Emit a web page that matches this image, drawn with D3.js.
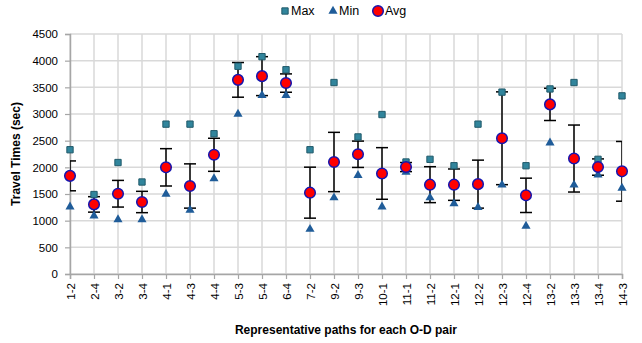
<!DOCTYPE html>
<html>
<head>
<meta charset="utf-8">
<script src="https://cdn.jsdelivr.net/npm/d3@7"></script>
<style>
  body { margin: 0; background: #fff; }
  text { font-family: "Liberation Sans", Arial, sans-serif; fill: #000; }
</style>
</head>
<body>
<svg id="chart" width="642" height="343"></svg>
<script>
const pairs = ['1-2', '2-4', '3-2', '3-4', '4-1', '4-3', '4-4', '5-3', '5-4', '6-4', '7-2', '9-2',
    '9-3', '10-1', '11-1', '11-2', '12-1', '12-2', '12-3', '12-4', '13-2', '13-3', '13-4', '14-3'];
const maxTimes = [2330, 1490, 2090, 1725, 2810, 2810, 2630, 3895, 4075, 3830, 2330, 3590,
    2570, 2990, 2100, 2150, 2030, 2810, 3410, 2030, 3470, 3590, 2150, 3340];
const minTimes = [1260, 1090, 1020, 1020, 1500, 1200, 1790, 3000, 3350, 3350, 840, 1430,
    1850, 1260, 1910, 1430, 1320, 1250, 1670, 900, 2460, 1670, 1860, 1610];
const avgTimes = [1840, 1305, 1505, 1350, 2000, 1650, 2235, 3640, 3710, 3580, 1525, 2100,
    2245, 1885, 2005, 1675, 1675, 1685, 2545, 1475, 3180, 2165, 2005, 1925];
const stdDev = [280, 145, 250, 200, 350, 415, 310, 325, 365, 172, 478, 556,
    247, 484, 85, 337, 294, 450, 870, 322, 302, 628, 153, 560];
const yTicks = [0, 500, 1000, 1500, 2000, 2500, 3000, 3500, 4000, 4500];

const svg = d3.select('#chart');
const margin = {top: 34, right: 20, bottom: 69, left: 70};
const width = 642 - margin.left - margin.right;
const height = 343 - margin.top - margin.bottom;
const g = svg.append('g').attr('transform', `translate(${margin.left},${margin.top})`);

const x = d3.scalePoint().domain(pairs).range([0, width]);
const y = d3.scaleLinear().domain([0, 4500]).range([height, 0]);

svg.append('defs').append('clipPath').attr('id', 'plotClip')
    .append('rect').attr('x', 0).attr('y', -5).attr('width', width).attr('height', height + 5);

// gridlines
g.append('g').selectAll('line').data(yTicks).join('line')
    .attr('x1', 0).attr('x2', width)
    .attr('y1', d => y(d)).attr('y2', d => y(d))
    .attr('stroke', '#d9d9d9').attr('stroke-width', 1.5);
g.append('g').selectAll('line').data(pairs).join('line')
    .attr('x1', d => x(d)).attr('x2', d => x(d))
    .attr('y1', 0).attr('y2', height)
    .attr('stroke', '#d9d9d9').attr('stroke-width', 1.5);

// axes
const yAxis = g.append('g')
    .call(d3.axisLeft(y).tickValues(yTicks).tickFormat(d3.format('d')).tickSize(5).tickPadding(7));
const xAxis = g.append('g').attr('transform', `translate(0,${height})`)
    .call(d3.axisBottom(x).tickSize(5).tickPadding(4));
[yAxis, xAxis].forEach(a => {
    a.select('.domain').attr('stroke', '#a6a6a6').attr('stroke-width', 1.5);
    a.selectAll('.tick line').attr('stroke', '#a6a6a6').attr('stroke-width', 1.2);
    a.selectAll('text').attr('font-size', 11.5).attr('font-family', '"Liberation Sans", Arial, sans-serif');
});
xAxis.selectAll('text')
    .attr('transform', 'rotate(-90)')
    .attr('text-anchor', 'end')
    .attr('dy', '0.35em')
    .attr('x', -9).attr('y', 0);

// error bars (clipped to the plot area)
const rows = pairs.map((p, i) => ({p, max: maxTimes[i], min: minTimes[i], avg: avgTimes[i], sd: stdDev[i]}));
const err = g.append('g').attr('clip-path', 'url(#plotClip)')
    .attr('stroke', '#000').attr('stroke-width', 1.5);
err.selectAll('.stem').data(rows).join('line')
    .attr('x1', d => x(d.p)).attr('x2', d => x(d.p))
    .attr('y1', d => y(d.avg + d.sd)).attr('y2', d => y(d.avg - d.sd));
err.selectAll('.capTop').data(rows).join('line')
    .attr('x1', d => x(d.p) - 6).attr('x2', d => x(d.p) + 6)
    .attr('y1', d => y(d.avg + d.sd)).attr('y2', d => y(d.avg + d.sd));
err.selectAll('.capBot').data(rows).join('line')
    .attr('x1', d => x(d.p) - 6).attr('x2', d => x(d.p) + 6)
    .attr('y1', d => y(d.avg - d.sd)).attr('y2', d => y(d.avg - d.sd));

// markers
const squareSym = d3.symbol().type(d3.symbolSquare).size(40);
const triSym = d3.symbol().type(d3.symbolTriangle).size(36);
g.append('g').selectAll('path').data(rows).join('path')
    .attr('d', squareSym)
    .attr('transform', d => `translate(${x(d.p)},${y(d.max)})`)
    .attr('fill', '#31859c').attr('stroke', '#215a6a').attr('stroke-width', 1);
g.append('g').selectAll('path').data(rows).join('path')
    .attr('d', triSym)
    .attr('transform', d => `translate(${x(d.p)},${y(d.min)})`)
    .attr('fill', '#1f5c99');
g.append('g').selectAll('circle').data(rows).join('circle')
    .attr('cx', d => x(d.p)).attr('cy', d => y(d.avg)).attr('r', 5.3)
    .attr('fill', '#ff0000').attr('stroke', '#1515b0').attr('stroke-width', 1.5);

// axis titles
svg.append('text')
    .attr('transform', `translate(20,${margin.top + height / 2}) rotate(-90)`)
    .attr('text-anchor', 'middle')
    .attr('font-size', 12).attr('font-weight', 'bold')
    .text('Travel Times (sec)');
svg.append('text')
    .attr('x', margin.left + width / 2).attr('y', 334)
    .attr('text-anchor', 'middle')
    .attr('font-size', 12).attr('font-weight', 'bold')
    .text('Representative paths for each O-D pair');

// legend
const legend = svg.append('g').attr('transform', 'translate(0,11)');
legend.append('path').attr('d', squareSym).attr('transform', 'translate(285,0)')
    .attr('fill', '#31859c').attr('stroke', '#215a6a');
legend.append('text').attr('x', 291).attr('y', 0).attr('dy', '0.35em').attr('font-size', 12.5).text('Max');
legend.append('path').attr('d', triSym).attr('transform', 'translate(333,0)').attr('fill', '#1f5c99');
legend.append('text').attr('x', 339).attr('y', 0).attr('dy', '0.35em').attr('font-size', 12.5).text('Min');
legend.append('circle').attr('cx', 378).attr('cy', 0).attr('r', 5.3)
    .attr('fill', '#ff0000').attr('stroke', '#1515b0').attr('stroke-width', 1.5);
legend.append('text').attr('x', 385).attr('y', 0).attr('dy', '0.35em').attr('font-size', 12.5).text('Avg');
</script>
</body>
</html>
